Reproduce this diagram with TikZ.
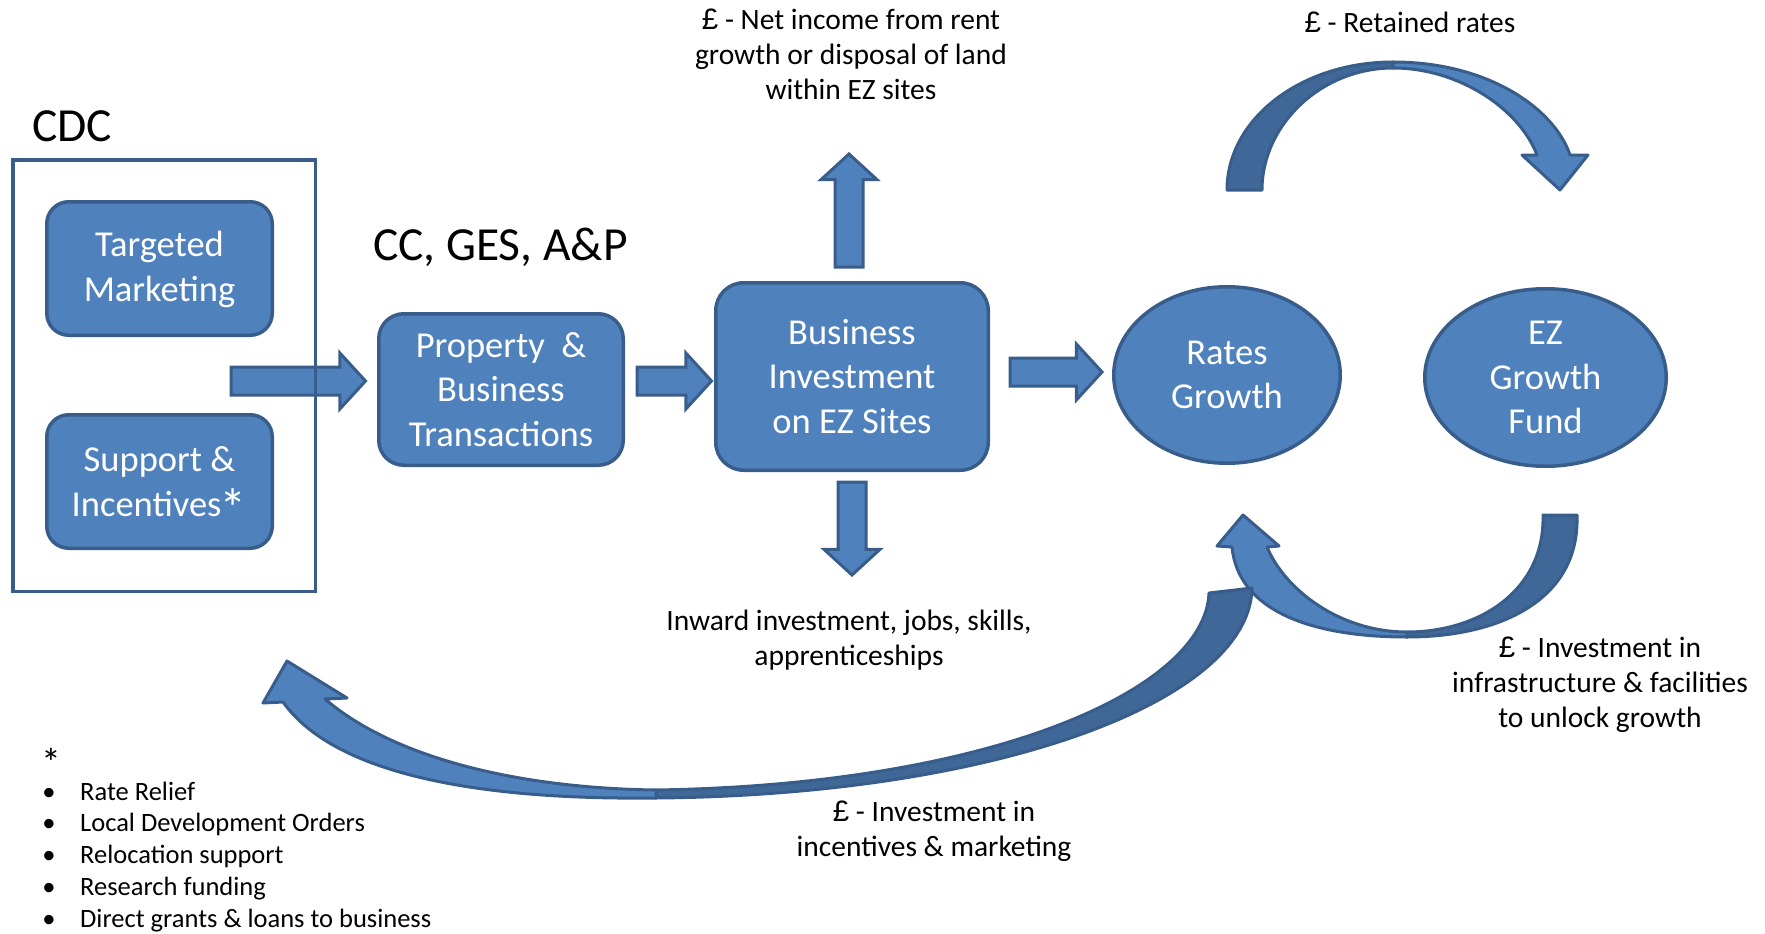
\documentclass[tikz,border=0pt]{standalone}
\usepackage{fontspec}
\setmainfont{Carlito}
\newfontfamily\poundfont{Liberation Sans}
\usetikzlibrary{shapes.geometric, shapes.arrows}

\definecolor{ezblue}{HTML}{4F81BD}
\definecolor{ezedge}{HTML}{385D8A}
\definecolor{ezdark}{HTML}{3F6797}

\newcommand{\pnd}{{\poundfont £}}
\newcommand{\starmark}{\kern-0.04em\smash{\raisebox{-0.3em}{\scalebox{1.5}{*}}}}

\tikzset{
    panel/.style = {draw = ezedge, fill = ezblue, line width = 3.5pt, rounded corners = 22pt,
        text = white, align = center, font = \fontsize{36.5}{44.5}\selectfont},
    oval/.style = {ellipse, draw = ezedge, fill = ezblue, line width = 3.5pt, inner sep = 0pt,
        text = white, align = center, font = \fontsize{36.5}{44.5}\selectfont},
    fatarrow/.style = {single arrow, draw = ezedge, fill = ezblue, line width = 3pt,
        inner sep = 0pt, inner ysep = 12.5pt, single arrow head extend = 14pt,
        single arrow tip angle = 95, anchor = tail},
    curve/.style = {draw = ezedge, line width = 3pt, line join = round},
    caption/.style = {align = center, font = \fontsize{29.5}{35}\selectfont},
    heading/.style = {anchor = base west, inner sep = 0pt, font = \fontsize{47.5}{57}\selectfont}
}

\begin{document}
\begin{tikzpicture}[x = 1pt, y = -1pt]
    \useasboundingbox (0,0) rectangle (1765,934);

    % retained rates
    \draw[curve, fill = ezdark] (1227,190) .. controls (1227,119) and (1301,62) .. (1393,62)
        -- (1393,68) .. controls (1321,68) and (1262,125) .. (1262,190) -- cycle;
    \draw[curve, fill = ezblue] (1393,62) .. controls (1490,62) and (1555,110) .. (1570,155)
        -- (1588,155) -- (1560,190) -- (1522,155) -- (1537,155)
        .. controls (1520,110) and (1460,68) .. (1393,68) -- cycle;

    % investment back into rates growth
    \draw[curve, fill = ezdark] (1577,515) .. controls (1580,600) and (1500,637) .. (1407,637)
        -- (1407,632) .. controls (1480,632) and (1545,590) .. (1543,515) -- cycle;
    \draw[curve, fill = ezblue] (1407,637) .. controls (1310,637) and (1238,610) .. (1232,547)
        -- (1217,546) -- (1243,515) -- (1279,546) -- (1267,547)
        .. controls (1285,590) and (1340,632) .. (1407,632) -- cycle;

    % investment back to CDC
    \draw[curve, fill = ezdark] (1252,588) .. controls (1250,700) and (1000,795) .. (656,798)
        -- (656,790) .. controls (990,785) and (1205,690) .. (1209,593) -- cycle;
    \draw[curve, fill = ezblue] (656,798) .. controls (480,800) and (335,775) .. (283,702)
        -- (263,703) -- (287,661) -- (347,698) -- (325,699)
        .. controls (390,755) and (510,788) .. (656,790) -- cycle;

    % CDC
    \node[heading] (cdc) at (32,141) {CDC};
    \node[panel, minimum width = 225.5pt, minimum height = 133.5pt] (marketing) at (159.5,268.5) {\rule{0pt}{0.75em}Targeted\\Marketing};
    \node[panel, minimum width = 225.5pt, minimum height = 133.5pt] (support) at (159.5,481.5) {Support \&\\Incentives\starmark};
    \node[fatarrow, minimum height = 134.5pt] (a1) at (229.5,381) {};
    \node[draw = ezedge, line width = 3.5pt, minimum width = 302.5pt, minimum height = 431.5pt] (cdcframe) at (164,375.5) {};

    % partners
    \node[heading] (partners) at (373,260) {CC, GES, A\&P};
    \node[panel, minimum width = 244.5pt, minimum height = 151.5pt, rounded corners = 25pt] (property) at (501,389.5) {Property\ \ \&\\Business\\Transactions};
    \node[fatarrow, minimum height = 74.5pt] (a2) at (635.5,381) {};
    \node[panel, minimum width = 272.5pt, minimum height = 187.5pt, rounded corners = 28pt] (business) at (852,376.5) {Business\\Investment\\on EZ Sites};
    \node[fatarrow, minimum height = 113pt, rotate = 90] (up) at (849,268.5) {};
    \node[fatarrow, minimum height = 93pt, rotate = -90] (down) at (852,480.5) {};
    \node[fatarrow, minimum height = 92pt] (a3) at (1008.5,372) {};

    % rates
    \node[oval, minimum width = 226.5pt, minimum height = 176.5pt] (rates) at (1227,375) {Rates\\Growth};
    \node[oval, minimum width = 241.5pt, minimum height = 177.5pt] (fund) at (1545.5,377.5) {EZ\\Growth\\Fund};

    % captions
    \node[caption] (rent) at (851,54) {\pnd{} - Net income from rent\\growth or disposal of land\\within EZ sites};
    \node[caption] (jobs) at (849,640) {Inward investment, jobs, skills,\\apprenticeships};
    \node[caption, anchor = base] (retained) at (1410,33) {\pnd{} - Retained rates};
    \node[caption] (infra) at (1600,685) {\pnd{} - Investment in\\infrastructure \& facilities\\to unlock growth};
    \node[caption] (incent) at (934,831) {\pnd{} - Investment in\\incentives \& marketing};

    % footnote
    \begin{scope}[every node/.append style = {font = \fontsize{26.5}{31.75}\selectfont, inner sep = 0pt}]
        \node[anchor = base] (star) at (52,769) {\starmark};
        \foreach \txt [count = \i] in {Rate Relief, Local Development Orders, Relocation support, Research funding, Direct grants \& loans to business} {
            \node[anchor = base] (dot\i) at (49,768.25+31.75*\i) {\textbullet};
            \node[anchor = base west] (item\i) at (80,768.25+31.75*\i) {\txt};
        }
    \end{scope}
\end{tikzpicture}
\end{document}
